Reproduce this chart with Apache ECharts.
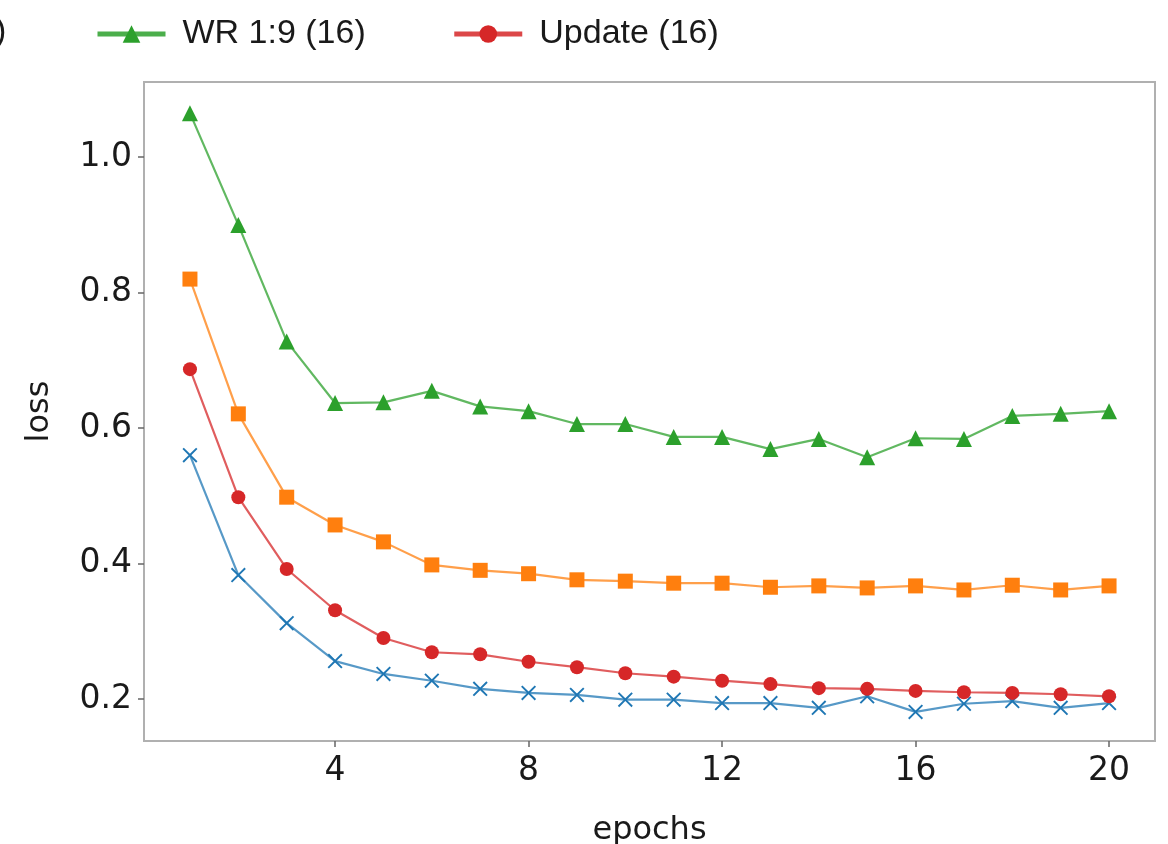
<!DOCTYPE html>
<html>
<head>
<meta charset="utf-8">
<script src="https://cdn.jsdelivr.net/npm/echarts@6/dist/echarts.min.js"></script>
<style>html,body{margin:0;padding:0;background:#fff}#c{width:1168px;height:844px}</style>
</head>
<body>
<div id="c"></div>
<script>
const epochs = [1,2,3,4,5,6,7,8,9,10,11,12,13,14,15,16,17,18,19,20];
const xTicks = [4, 8, 12, 16, 20];
const yTicks = [0.2, 0.4, 0.6, 0.8, 1.0];
const seriesNames = ['Series 1 (16)', 'Series 2 (16)', 'WR 1:9 (16)', 'Update (16)'];
const blueLoss   = [0.560,0.383,0.312,0.256,0.237,0.227,0.215,0.209,0.206,0.199,0.199,0.194,0.194,0.187,0.204,0.181,0.193,0.197,0.187,0.194];
const orangeLoss = [0.820,0.621,0.498,0.457,0.432,0.398,0.390,0.385,0.376,0.374,0.371,0.371,0.365,0.367,0.364,0.367,0.361,0.368,0.361,0.367];
const greenLoss  = [1.065,0.900,0.728,0.637,0.638,0.655,0.632,0.625,0.606,0.606,0.587,0.587,0.569,0.584,0.557,0.585,0.584,0.618,0.621,0.625];
const redLoss    = [0.687,0.498,0.392,0.331,0.290,0.269,0.266,0.255,0.247,0.238,0.233,0.227,0.222,0.216,0.215,0.212,0.210,0.209,0.207,0.204];

const pair = arr => epochs.map((e, i) => [e, arr[i]]);
const xPath = 'path://M0,0.9L0.9,0L5,4.1L9.1,0L10,0.9L5.9,5L10,9.1L9.1,10L5,5.9L0.9,10L0,9.1L4.1,5Z';

function mk(name, data, color, symbol, size) {
  return {
    name: name, type: 'line', data: pair(data),
    symbol: symbol, symbolSize: size,
    lineStyle: { color: color, width: 2.2, opacity: 0.75 },
    itemStyle: { color: color },
    emphasis: { disabled: true },
    animation: false
  };
}

const chart = echarts.init(document.getElementById('c'), null, { renderer: 'canvas' });
chart.setOption({
  backgroundColor: '#fff',
  animation: false,
  grid: { left: 144, right: 13, top: 82, bottom: 103, show: true, borderColor: '#b0b0b0', borderWidth: 2, backgroundColor: '#fff', containLabel: false, outerBoundsMode: 'none' },
  legend: {
    data: ['WR 1:9 (16)', 'Update (16)'],
    left: 90, top: 12,
    itemWidth: 68, itemHeight: 22, itemGap: 86,
    lineStyle: { width: 5, opacity: 0.85 },
    textStyle: { fontFamily: 'Liberation Sans', fontSize: 34, color: '#1a1a1a', padding: [0, 0, 0, 12] }
  },
  graphic: [
    { type: 'text', left: -5, top: 15, style: { text: ')', font: '34px "Liberation Sans"', fill: '#1a1a1a' } }
  ],
  xAxis: {
    type: 'value', min: 0.05, max: 20.95,
    name: 'epochs', nameLocation: 'middle', nameGap: 74,
    nameTextStyle: { fontFamily: 'DejaVu Sans', fontSize: 32, color: '#1a1a1a' },
    axisLine: { show: false },
    splitLine: { show: false },
    axisTick: { show: true, customValues: xTicks, length: 6, lineStyle: { color: '#666', width: 1.5 } },
    axisLabel: { customValues: xTicks, margin: 14, fontFamily: 'DejaVu Sans', fontSize: 33, color: '#1a1a1a' }
  },
  yAxis: {
    type: 'value', min: 0.138, max: 1.111,
    name: 'loss', nameLocation: 'middle', nameGap: 88, nameRotate: 90,
    nameTextStyle: { fontFamily: 'DejaVu Sans', fontSize: 32, color: '#1a1a1a' },
    axisLine: { show: false },
    splitLine: { show: false },
    axisTick: { show: true, customValues: yTicks, length: 6, lineStyle: { color: '#666', width: 1.5 } },
    axisLabel: { customValues: yTicks, margin: 12, fontFamily: 'DejaVu Sans', fontSize: 33, color: '#1a1a1a',
      formatter: v => v.toFixed(1) }
  },
  series: [
    mk(seriesNames[0], blueLoss, '#1f77b4', xPath, 15),
    mk(seriesNames[1], orangeLoss, '#ff7f0e', 'rect', 15),
    mk(seriesNames[2], greenLoss, '#2ca02c', 'triangle', 16),
    mk(seriesNames[3], redLoss, '#d62728', 'circle', 14)
  ]
});
</script>
</body>
</html>
